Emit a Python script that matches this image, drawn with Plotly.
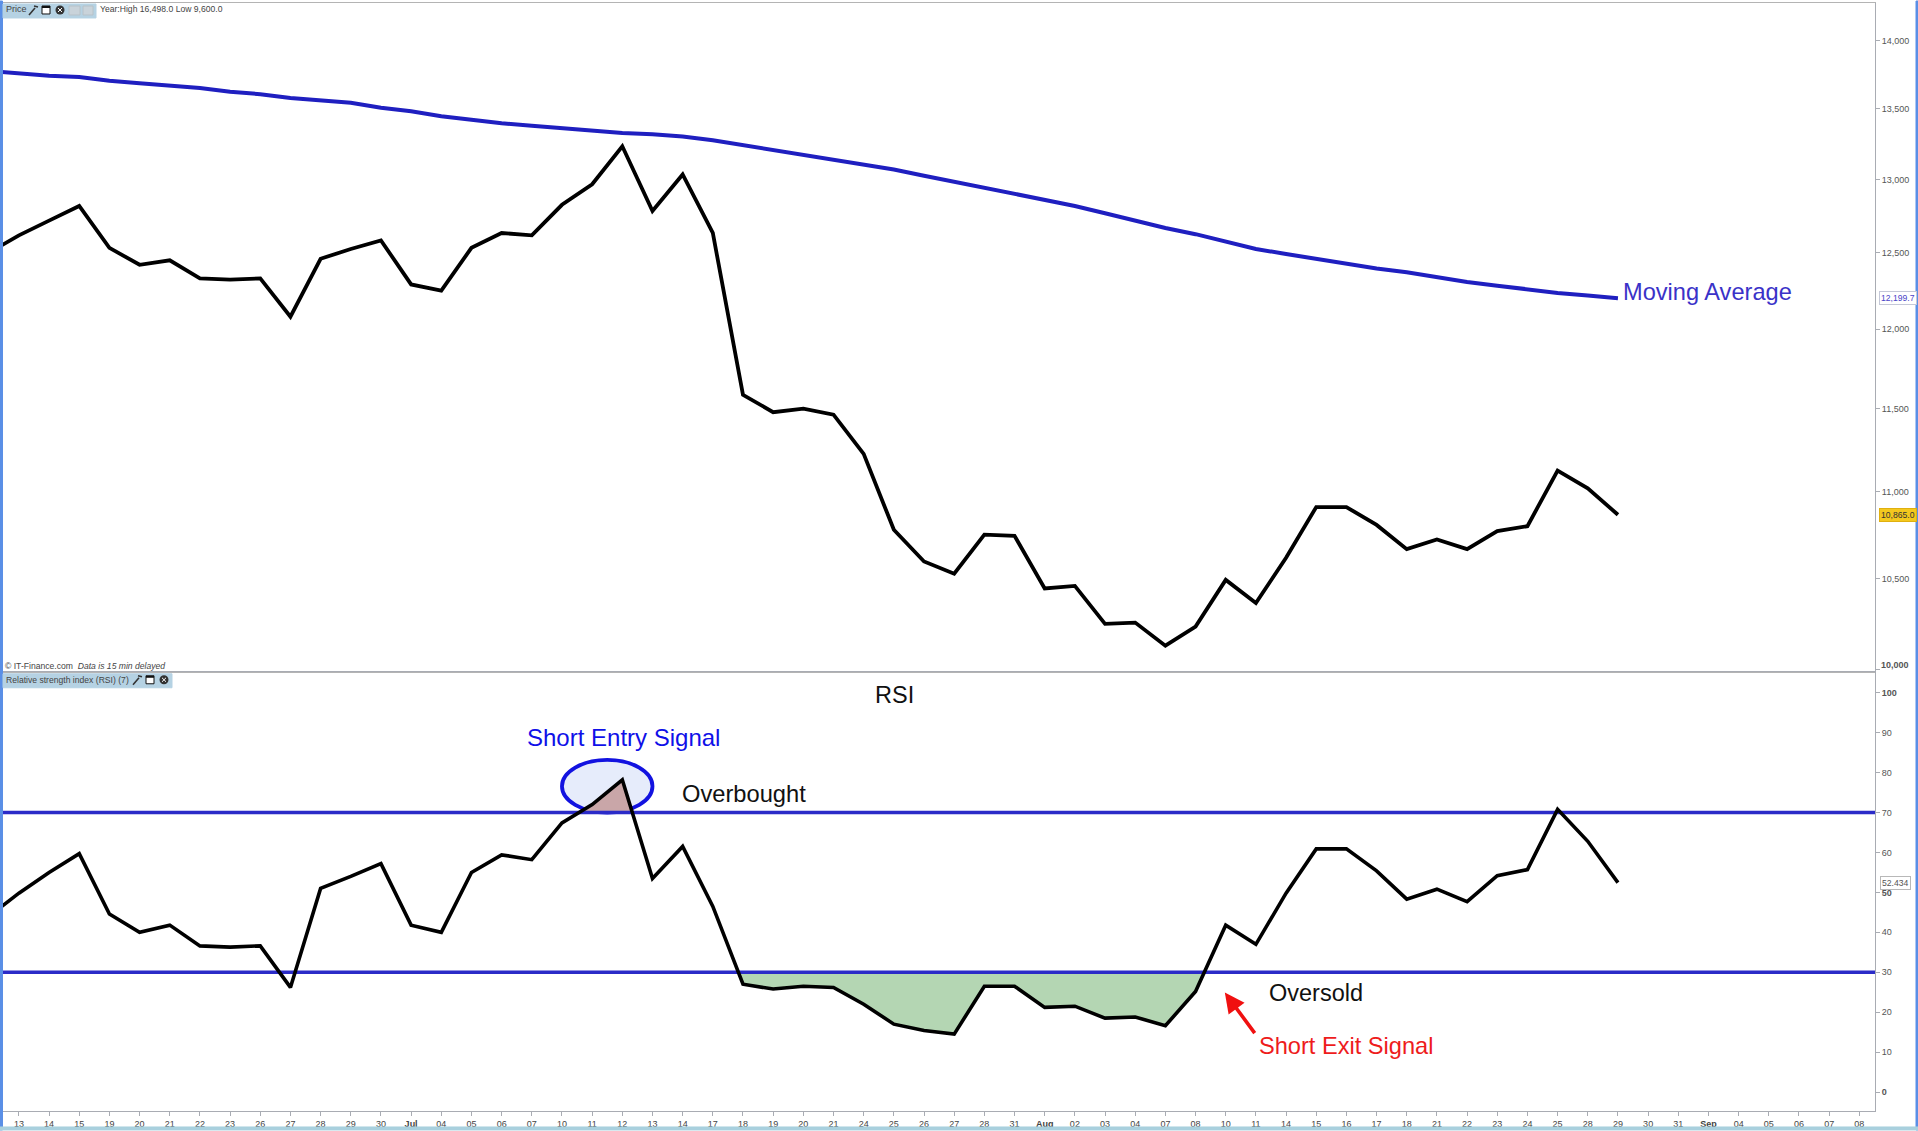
import math
import plotly.graph_objects as go

tick_labels = ["13","14","15","19","20","21","22","23","26","27","28","29","30","<b>Jul</b>","04","05","06","07",
               "10","11","12","13","14","17","18","19","20","21","24","25","26","27","28","31","<b>Aug</b>","02","03","04",
               "07","08","10","11","14","15","16","17","18","21","22","23","24","25","28","29","30","31","<b>Sep</b>",
               "04","05","06","07","08"]

price = [12500,12617,12717,12817,12533,12420,12450,12330,12322,12330,12080,12460,12525,12583,12290,12250,12533,12633,
         12617,12825,12967,13233,12783,13035,12633,11585,11478,11500,11463,11225,10778,10597,10528,10750,10743,10445,
         10459,10249,10256,10130,10234,10493,10364,10618,10910,10910,10806,10667,10722,10667,10771,10799,11125,11020,10865]

moving_avg = [13777,13759,13741,13732,13705,13687,13670,13652,13625,13607,13580,13563,13545,13509,13483,13448,13422,
              13397,13379,13362,13345,13328,13319,13302,13276,13241,13207,13172,13138,13103,13069,13026,12983,12942,
              12900,12858,12817,12767,12717,12667,12625,12575,12525,12492,12460,12427,12395,12371,12339,12306,12282,
              12258,12234,12218,12199.7]

rsi = [44,49.8,55,59.7,44.6,40,41.8,36.6,36.3,36.6,26.2,51,54,57.2,41.8,40,55,59.4,58.2,67.4,72,78.2,53.5,61.5,46.5,
       27,25.8,26.5,26.2,22,17,15.4,14.5,26.5,26.5,21.2,21.5,18.5,18.8,16.6,25.2,41.8,37,49.8,60.9,60.9,55.4,48.3,
       50.8,47.7,54.2,55.7,70.8,62.8,52.434]

price_ticks = [10000,10500,11000,11500,12000,12500,13000,13500,14000]
price_tick_text = ["","10,500","11,000","11,500","12,000","12,500","13,000","13,500","14,000"]
rsi_ticks = [0,10,20,30,40,50,60,70,80,90,100]
rsi_tick_text = ["<b>0</b>","10","20","30","40","<b>50</b>","60","70","80","90","<b>100</b>"]
overbought = 70
oversold = 30

x_index = list(range(-1, len(price) - 1))
tick_index = list(range(len(tick_labels)))
x_range = [-0.56, 61.52]

W, H = 1918, 1131
L, R, T, B = 2, 1875, 2, 1112
def px(x): return (x - L) / (R - L)
def py(y): return (B - y) / (B - T)

BLUE = "#2b2bc8"
GRAY = "#a9acb3"
TXT = "#555555"


def cross(i, level):
    a, b = rsi[i], rsi[i + 1]
    return x_index[i] + (level - a) / (b - a)


def region(level, above):
    xs, ys = [], []
    for i in range(len(rsi) - 1):
        ok = (rsi[i] > level) == above
        next_ok = (rsi[i + 1] > level) == above
        if ok:
            xs.append(x_index[i]); ys.append(rsi[i])
        if ok != next_ok:
            xs.append(cross(i, level)); ys.append(level)
            if not next_ok:
                xs.append(None); ys.append(None)
    return xs, ys


fig = go.Figure()

fig.add_trace(go.Scatter(x=x_index, y=moving_avg, mode="lines", line=dict(color="#1f1fc0", width=4), xaxis="x", yaxis="y", hoverinfo="skip"))
fig.add_trace(go.Scatter(x=x_index, y=price, mode="lines", line=dict(color="#000000", width=3.8), xaxis="x", yaxis="y", hoverinfo="skip"))

gx, gy = region(oversold, False)
start = gy.index(None) + 1 if None in gy else 0
gx, gy = gx[start:], gy[start:]
end = gy.index(None) if None in gy else len(gy)
gx, gy = gx[:end], gy[:end]
fig.add_trace(go.Scatter(x=gx, y=gy, mode="none", fill="toself", fillcolor="#b4d6b3", xaxis="x2", yaxis="y2", hoverinfo="skip"))

px_, py_ = region(overbought, True)
end = py_.index(None) if None in py_ else len(py_)
fig.add_trace(go.Scatter(x=px_[:end], y=py_[:end], mode="none", fill="toself", fillcolor="#c9a6a8", xaxis="x2", yaxis="y2", hoverinfo="skip"))

for lvl in (overbought, oversold):
    fig.add_trace(go.Scatter(x=x_range, y=[lvl, lvl], mode="lines", line=dict(color=BLUE, width=3.6), xaxis="x2", yaxis="y2", hoverinfo="skip"))
fig.add_trace(go.Scatter(x=x_index, y=rsi, mode="lines", line=dict(color="#000000", width=3.6), xaxis="x2", yaxis="y2", hoverinfo="skip"))

shapes = [
    dict(type="circle", xref="x2", yref="y2", x0=18.0, x1=21.0, y0=70.0, y1=83.2, layer="below",
         fillcolor="#e6ecfb", line=dict(color="#1212e0", width=3.8)),
]


def rect(x0, y0, x1, y1, fill, line=None, lw=1):
    shapes.append(dict(type="rect", xref="paper", yref="paper", x0=px(x0), x1=px(x1), y0=py(y1), y1=py(y0),
                       fillcolor=fill, line=dict(color=line or fill, width=lw), layer="above"))


def seg(x0, y0, x1, y1, color, lw=1.5):
    shapes.append(dict(type="line", xref="paper", yref="paper", x0=px(x0), x1=px(x1), y0=py(y0), y1=py(y1),
                       line=dict(color=color, width=lw), layer="above"))


def disc(x0, y0, x1, y1, fill):
    shapes.append(dict(type="circle", xref="paper", yref="paper", x0=px(x0), x1=px(x1), y0=py(y1), y1=py(y0),
                       fillcolor=fill, line=dict(color=fill, width=0), layer="above"))


rect(0, 0, 2.5, 1131, "#5a8fe6")
rect(1916, 0, 1918, 1131, "#5a8fe6")
rect(0, 1128, 1918, 1131, "#a9d0de")

TB = "#b5d2e3"
rect(3, 3, 96, 17, TB)
rect(3, 674, 172, 688, TB)


def icons(xw, xb, xc, yc):
    seg(xw - 4, yc + 5, xw + 2, yc - 2, "#333333", 1.6)
    seg(xw + 1, yc - 4, xw + 5, yc - 3, "#333333", 1.6)
    rect(xb - 4, yc - 4, xb + 4, yc + 4, "#ffffff", "#111111", 1)
    seg(xb - 4, yc - 3, xb + 4, yc - 3, "#111111", 2)
    disc(xc - 4.5, yc - 4.5, xc + 4.5, yc + 4.5, "#333333")
    seg(xc - 2, yc - 2, xc + 2, yc + 2, "#ffffff", 1)
    seg(xc - 2, yc + 2, xc + 2, yc - 2, "#ffffff", 1)


icons(33, 46, 60, 9)
rect(69, 5, 80, 14, "#c9d3da", "#b8c2c8")
rect(83, 5, 93, 14, "#c9d3da", "#b8c2c8")
icons(137, 150, 164, 680)

annotations = []


def label(text, x, y, size, color, anchor="left", family="Liberation Sans"):
    annotations.append(dict(text=text, xref="paper", yref="paper", x=px(x), y=py(y), xanchor=anchor, yanchor="middle",
                            showarrow=False, font=dict(family=family, size=size, color=color)))


label("Price", 4, 8, 9, "#444444")
label("Year:High 16,498.0 Low 9,600.0", 98, 8, 8.6, "#444444")
label("© IT-Finance.com  <i>Data is 15 min delayed</i>", 3, 666, 8.6, "#444444")
label("Relative strength index (RSI) (7)", 4, 680, 8.6, "#444444")
label("<b>10,000</b>", 1879, 665, 9, TXT)

label("Moving Average", 1621, 292, 23.6, "#3a32c8")
label("RSI", 873, 695, 23.5, "#111111")
label("Short Entry Signal", 525, 738, 24, "#1010e8")
label("Overbought", 680, 794, 23.7, "#111111")
label("Oversold", 1267, 994, 23.5, "#111111")
label("Short Exit Signal", 1257, 1047, 23.6, "#ee1c1c")

annotations.append(dict(x=39.97, y=24.9, xref="x2", yref="y2", text="", showarrow=True, arrowhead=2, arrowsize=1.1,
                        arrowwidth=3.6, arrowcolor="#f01010", ax=31, ay=42, axref="pixel", ayref="pixel"))

annotations.append(dict(text=f"{moving_avg[-1]:,.1f}", xref="paper", yref="y", x=px(1879), y=math.log10(moving_avg[-1]),
                        xanchor="left", yanchor="middle", showarrow=False, font=dict(family="Liberation Sans", size=8.6, color="#4a44c8"),
                        bgcolor="#ffffff", bordercolor="#c4c8d8", borderwidth=1, borderpad=1))
annotations.append(dict(text=f"{price[-1]:,.1f}", xref="paper", yref="y", x=px(1879), y=math.log10(price[-1]),
                        xanchor="left", yanchor="middle", showarrow=False, font=dict(family="Liberation Sans", size=8.6, color="#333333"),
                        bgcolor="#f4c81e", bordercolor="#e0b010", borderwidth=1, borderpad=1))
annotations.append(dict(text=f"{rsi[-1]:.3f}", xref="paper", yref="y2", x=px(1880), y=rsi[-1],
                        xanchor="left", yanchor="middle", showarrow=False, font=dict(family="Liberation Sans", size=8.6, color="#555555"),
                        bgcolor="#ffffff", bordercolor="#b8b8b8", borderwidth=1, borderpad=1))

split = py(672)
tickfont = dict(family="Liberation Sans", size=9, color=TXT)
xtickfont = dict(family="Liberation Sans", size=9, color="#444444")
fig.update_layout(
    width=W, height=H, autosize=False, showlegend=False,
    margin=dict(l=L, r=W - R, t=T, b=H - B, pad=0),
    paper_bgcolor="#ffffff", plot_bgcolor="#ffffff",
    shapes=shapes, annotations=annotations,
    font=dict(family="Liberation Sans"),
    xaxis=dict(domain=[0, 1], anchor="y", range=x_range, showgrid=False, zeroline=False, showticklabels=False,
               ticks="", showline=True, linecolor="#b4b4b4", linewidth=1, mirror=True),
    yaxis=dict(domain=[split, 1], anchor="x", type="log", side="right", range=[3.99954, 4.15495], showgrid=False,
               zeroline=False, tickmode="array", tickvals=price_ticks, ticktext=price_tick_text, ticks="outside",
               ticklen=4, tickcolor=GRAY, tickfont=tickfont, showline=True, linecolor=GRAY, linewidth=1),
    xaxis2=dict(domain=[0, 1], anchor="y2", range=x_range, showgrid=False, zeroline=False, tickmode="array",
                tickvals=tick_index, ticktext=tick_labels, tickangle=0, ticks="outside", ticklen=4, tickcolor=GRAY,
                tickfont=xtickfont, showline=True, linecolor=GRAY, linewidth=1, mirror=True),
    yaxis2=dict(domain=[0, split], anchor="x2", side="right", range=[-4.75, 105.25], showgrid=False, zeroline=False,
                tickmode="array", tickvals=rsi_ticks, ticktext=rsi_tick_text, ticks="outside", ticklen=4,
                tickcolor=GRAY, tickfont=tickfont, showline=True, linecolor=GRAY, linewidth=1),
)

fig.write_html("out.html", config=dict(displayModeBar=False),
               post_script="document.body.style.margin='0';document.body.style.overflow='hidden';")
